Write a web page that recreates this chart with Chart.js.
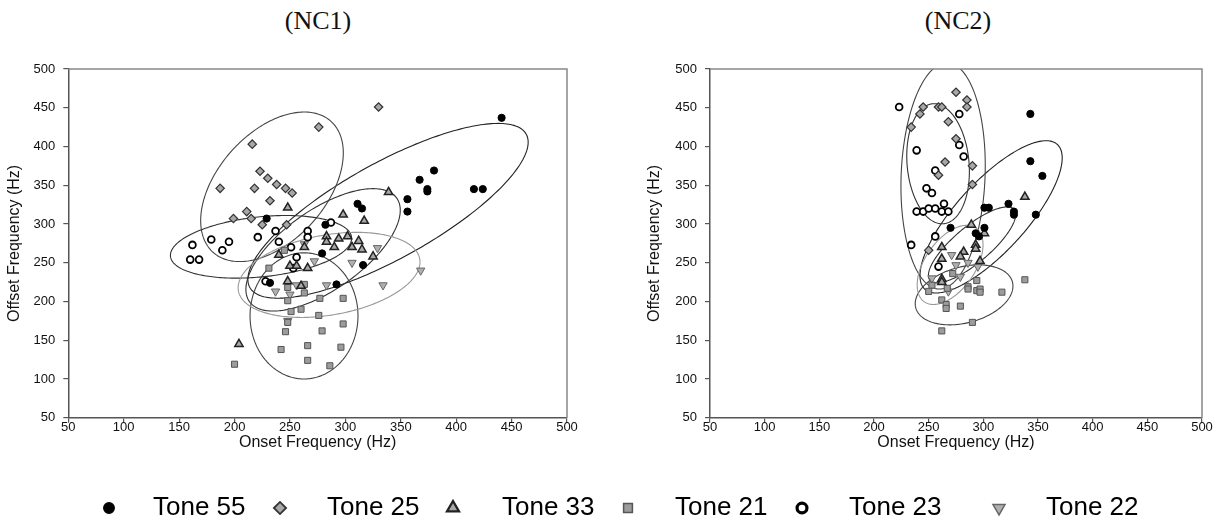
<!DOCTYPE html>
<html>
<head>
<meta charset="utf-8">
<script src="https://cdn.jsdelivr.net/npm/chart.js@4.4.1/dist/chart.umd.min.js"></script>
<style>
  body { margin: 0; background: #fff; width: 1229px; height: 529px; position: relative; overflow: hidden; }
  .wrap { position: absolute; top: 0; }
  .ttl { position: absolute; top: 6px; font: 26px "Liberation Serif", "Times New Roman", serif; color: #111; transform: translateX(-50%); white-space: nowrap; }
  #legend { position: absolute; left: 0; top: 484px; }
</style>
</head>
<body>
<div class="ttl" style="left:318px">(NC1)</div>
<div class="ttl" style="left:958px">(NC2)</div>
<div class="wrap" style="left:0"><canvas id="nc1" width="600" height="452"></canvas></div>
<div class="wrap" style="left:640px"><canvas id="nc2" width="589" height="452"></canvas></div>
<canvas id="legend" width="1229" height="45"></canvas>
<script>
// tones in legend order
var tones = ["Tone 55", "Tone 25", "Tone 33", "Tone 21", "Tone 23", "Tone 22"];
var axisTicks = [50, 100, 150, 200, 250, 300, 350, 400, 450, 500];

// NC1 points [onset, offset] (Hz)
var nc1Tone55 = [[229,307],[232,224],[279,262],[282,299],[292,222],[311,326],[315,320],[316,247],[356,332],[356,316],[367,357],[374,345],[374,342],[380,369],[416,345],[424,345],[441,437]];
var nc1Tone25 = [[330,451],[276,425],[216,403],[223,368],[230,359],[238,351],[246,346],[252,340],[187,346],[218,346],[232,330],[211,316],[215,307],[199,307],[225,299],[247,299]];
var nc1Tone33 = [[248,321],[298,312],[317,304],[339,341],[283,284],[283,277],[294,281],[302,284],[312,278],[306,270],[315,267],[290,270],[263,270],[325,258],[266,243],[250,246],[256,246],[248,226],[260,220],[240,260],[204,145]];
var nc1Tone21 = [[200,119],[242,138],[266,143],[266,124],[286,117],[296,141],[298,171],[279,162],[246,161],[248,173],[276,182],[251,187],[260,190],[298,204],[277,204],[248,201],[263,211],[248,218],[263,222],[231,243],[245,266]];
var nc1Tone23 = [[162,273],[179,280],[195,277],[189,266],[160,254],[168,254],[221,283],[237,291],[240,277],[251,270],[266,291],[266,283],[287,302],[256,257],[253,243],[228,226]];
var nc1Tone22 = [[368,240],[334,221],[306,250],[283,221],[272,252],[237,213],[250,209],[256,221],[248,175],[329,269],[263,274]];

// NC2 points
var nc2Tone55 = [[343,442],[343,381],[354,362],[348,312],[323,326],[328,316],[328,312],[301,321],[305,321],[270,295],[301,295],[293,288],[296,284]];
var nc2Tone25 = [[275,470],[285,460],[285,451],[245,451],[259,451],[262,451],[242,442],[234,425],[268,432],[275,410],[265,380],[259,363],[290,375],[290,351],[250,266]];
var nc2Tone33 = [[338,335],[289,299],[301,288],[262,270],[262,255],[282,264],[279,258],[293,273],[293,268],[297,252],[262,229],[262,225]];
var nc2Tone21 = [[272,236],[253,221],[250,213],[267,217],[262,202],[266,196],[266,191],[279,194],[286,219],[286,216],[294,227],[294,214],[297,216],[297,212],[317,212],[338,228],[290,173],[262,162]];
var nc2Tone23 = [[223,451],[239,395],[256,369],[278,442],[278,402],[282,387],[248,346],[253,340],[264,326],[239,316],[245,316],[250,320],[256,320],[262,316],[268,316],[256,284],[234,273],[259,245]];
var nc2Tone22 = [[271,260],[275,247],[286,250],[279,232],[253,230],[268,213],[295,245]];

// ellipses per tone: [centre x, centre y, semi-axis A (dx, dy), semi-axis B (dx, dy)] in Hz
var nc1Ellipses = [
  [338.5, 317, 124.7, 98.9, 21, -54.2],
  [233.8, 348, 53.2, 84.5, 36.2, -46.6],
  [279.9, 266.6, 66.5, 66.7, 20.7, -42.3],
  [262.7, 181.4, 0, 81.4, 48.7, 0],
  [223.9, 270.5, 81.7, 12.3, 2.8, -38.5],
  [285.3, 234.3, 81.8, 20.6, 6.3, -50.9]
];
var nc2Ellipses = [
  [307.1, 309.2, 60.6, 93.4, 23.6, -30.5],
  [263.2, 362, 3.5, 146, 38.4, 0],
  [289.7, 273, 38.5, 45.7, 10.6, -17.8],
  [282.4, 208.5, 44.2, 16.7, 6.6, -34.9],
  [258.6, 377.7, -3.7, 77.5, 28.4, 0],
  [269.6, 247.2, 23.6, 47.6, 18.7, -18.5]
];

var markers = {
  "Tone 55": { style: "circle", r: 3.6, bg: "#000", bd: "#000", bw: 1, rot: 0 },
  "Tone 25": { style: "rectRot", r: 4.2, bg: "#a8a8a8", bd: "#333", bw: 1.2, rot: 0 },
  "Tone 33": { style: "triangle", r: 4.8, bg: "#a8a8a8", bd: "#222", bw: 1.5, rot: 0 },
  "Tone 21": { style: "rect", r: 4.3, bg: "#9c9c9c", bd: "#555", bw: 1, rot: 0 },
  "Tone 23": { style: "circle", r: 3.4, bg: "#fff", bd: "#000", bw: 1.8, rot: 0 },
  "Tone 22": { style: "triangle", r: 4.8, bg: "#b0b0b0", bd: "#666", bw: 1, rot: 180 }
};
var ellipseColors = ["#222", "#444", "#333", "#444", "#333", "#999"];

var ellipsePlugin = {
  id: "ellipses",
  beforeDatasetsDraw: function (chart, args, opts) {
    var ctx = chart.ctx, a = chart.chartArea, xs = chart.scales.x, ys = chart.scales.y;
    ctx.save();
    ctx.beginPath();
    ctx.rect(a.left, a.top, a.right - a.left, a.bottom - a.top);
    ctx.clip();
    opts.list.forEach(function (e, i) {
      ctx.beginPath();
      for (var k = 0; k <= 240; k++) {
        var t = k / 240 * 2 * Math.PI;
        var vx = e[0] + e[2] * Math.cos(t) + e[4] * Math.sin(t);
        var vy = e[1] + e[3] * Math.cos(t) + e[5] * Math.sin(t);
        var px = xs.getPixelForValue(vx), py = ys.getPixelForValue(vy);
        if (k === 0) ctx.moveTo(px, py); else ctx.lineTo(px, py);
      }
      ctx.strokeStyle = ellipseColors[i];
      ctx.lineWidth = 1.1;
      ctx.stroke();
    });
    ctx.restore();
  }
};

var framePlugin = {
  id: "frame",
  afterDraw: function (chart) {
    var ctx = chart.ctx, a = chart.chartArea;
    ctx.save();
    ctx.strokeStyle = "#888";
    ctx.lineWidth = 1.5;
    ctx.beginPath();
    ctx.moveTo(a.left, a.top);
    ctx.lineTo(a.right, a.top);
    ctx.lineTo(a.right, a.bottom);
    ctx.stroke();
    ctx.restore();
  }
};

function toPoints(list) {
  return list.map(function (p) { return { x: p[0], y: p[1] }; });
}

function makeChart(id, series, ellipses, yWidth, padRight) {
  var datasets = tones.map(function (name, i) {
    var m = markers[name];
    return {
      label: name,
      data: toPoints(series[i]),
      pointStyle: m.style,
      pointRadius: m.r,
      pointRotation: m.rot,
      backgroundColor: m.bg,
      borderColor: m.bd,
      borderWidth: m.bw,
      showLine: false
    };
  });
  var tickFont = { family: "'Liberation Sans', Arial, sans-serif", size: 13 };
  var titleFont = { family: "'Liberation Sans', Arial, sans-serif", size: 16 };
  return new Chart(document.getElementById(id), {
    type: "scatter",
    data: { datasets: datasets },
    plugins: [ellipsePlugin, framePlugin],
    options: {
      responsive: false,
      animation: false,
      layout: { padding: { left: 5, top: 69, right: padRight, bottom: 0 } },
      plugins: {
        legend: { display: false },
        tooltip: { enabled: false },
        ellipses: { list: ellipses }
      },
      scales: {
        x: {
          type: "linear", min: 50, max: 500,
          afterBuildTicks: function (s) { s.ticks = axisTicks.map(function (v) { return { value: v }; }); },
          afterFit: function (s) { s.height = 34.3; },
          grid: { drawOnChartArea: false, drawTicks: true, tickLength: 5, color: "#555", lineWidth: 1.2 },
          border: { color: "#555", width: 1.5 },
          ticks: { color: "#111", font: tickFont, padding: -3, maxRotation: 0 },
          title: { display: true, text: "Onset Frequency (Hz)", color: "#111", font: titleFont, padding: 0 }
        },
        y: {
          type: "linear", min: 50, max: 500,
          afterBuildTicks: function (s) { s.ticks = axisTicks.map(function (v) { return { value: v }; }); },
          afterFit: function (s) { s.width = yWidth; },
          grid: { drawOnChartArea: false, drawTicks: true, tickLength: 5, color: "#555", lineWidth: 1.2 },
          border: { color: "#555", width: 1.5 },
          ticks: { color: "#111", font: tickFont, padding: 8 },
          title: { display: true, text: "Offset Frequency (Hz)", color: "#111", font: titleFont, padding: 0 }
        }
      }
    }
  });
}

makeChart("nc1", [nc1Tone55, nc1Tone25, nc1Tone33, nc1Tone21, nc1Tone23, nc1Tone22], nc1Ellipses, 63.3, 33);
makeChart("nc2", [nc2Tone55, nc2Tone25, nc2Tone33, nc2Tone21, nc2Tone23, nc2Tone22], nc2Ellipses, 65, 27);

// shared legend along the bottom
(function () {
  var cv = document.getElementById("legend");
  var ctx = cv.getContext("2d");
  var symX = [109, 280, 453, 628, 802, 999];
  var textX = [153, 327, 502, 675, 849, 1046];
  var cy = 24;
  tones.forEach(function (name, i) {
    var m = markers[name];
    var bw = name === "Tone 23" ? 3.2 : m.bw * 1.5;
    ctx.save();
    ctx.fillStyle = m.bg;
    ctx.strokeStyle = m.bd;
    ctx.lineWidth = bw;
    Chart.helpers.drawPoint(ctx, {
      pointStyle: m.style, radius: m.r * 1.45, rotation: m.rot, borderWidth: bw
    }, symX[i], cy);
    ctx.restore();
  });
  ctx.font = "26px 'Liberation Sans Narrow', 'Liberation Sans', Arial, sans-serif";
  ctx.fillStyle = "#000";
  ctx.textBaseline = "middle";
  tones.forEach(function (name, i) { ctx.fillText(name, textX[i], cy); });
})();
</script>
</body>
</html>
